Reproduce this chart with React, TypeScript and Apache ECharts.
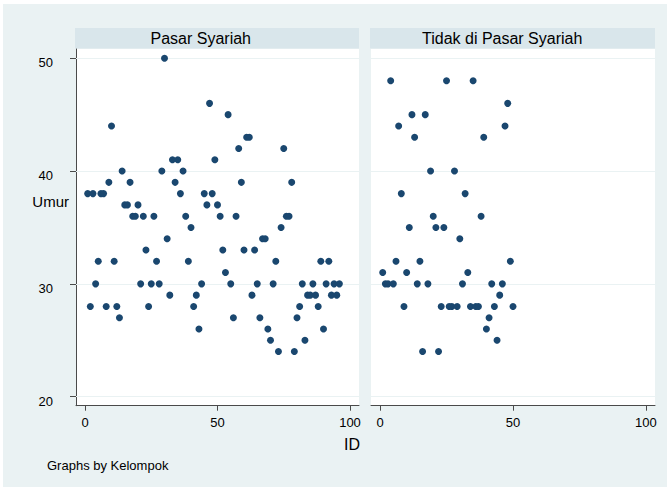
import React, { useEffect, useRef } from "react";
import * as echarts from "echarts";

const panelTitles = ["Pasar Syariah", "Tidak di Pasar Syariah"];
const xTicks = [0, 50, 100];
const yTicks = [20, 30, 40, 50];

const syariahId = [
  1, 2, 3, 4, 5, 6, 7, 8, 9, 10, 11, 12, 13, 14, 15, 16, 17, 18, 19, 20,
  21, 22, 23, 24, 25, 26, 27, 28, 29, 30, 31, 32, 33, 34, 35, 36, 37, 38, 39, 40,
  41, 42, 43, 44, 45, 46, 47, 48, 49, 50, 51, 52, 53, 54, 55, 56, 57, 58, 59, 60,
  61, 62, 63, 64, 65, 66, 67, 68, 69, 70, 71, 72, 73, 74, 75, 76, 77, 78, 79, 80,
  81, 82, 83, 84, 85, 86, 87, 88, 89, 90, 91, 92, 93, 94, 95, 96,
];
const syariahAge = [
  38, 28, 38, 30, 32, 38, 38, 28, 39, 44, 32, 28, 27, 40, 37, 37, 39, 36, 36, 37,
  30, 36, 33, 28, 30, 36, 32, 30, 40, 50, 34, 29, 41, 39, 41, 38, 40, 36, 32, 35,
  28, 29, 26, 30, 38, 37, 46, 38, 41, 37, 36, 33, 31, 45, 30, 27, 36, 42, 39, 33,
  43, 43, 29, 33, 30, 27, 34, 34, 26, 25, 30, 32, 24, 35, 42, 36, 36, 39, 24, 27,
  28, 30, 25, 29, 29, 30, 29, 28, 32, 26, 30, 32, 29, 30, 29, 30,
];
const tidakId = [
  1, 2, 3, 4, 5, 6, 7, 8, 9, 10, 11, 12, 13, 14, 15, 16, 17, 18, 19, 20,
  21, 22, 23, 24, 25, 26, 27, 28, 29, 30, 31, 32, 33, 34, 35, 36, 37, 38, 39, 40,
  41, 42, 43, 44, 45, 46, 47, 48, 49, 50,
];
const tidakAge = [
  31, 30, 30, 48, 30, 32, 44, 38, 28, 31, 35, 45, 43, 30, 32, 24, 45, 30, 40, 36,
  35, 24, 28, 35, 48, 28, 28, 40, 28, 34, 30, 38, 31, 28, 48, 28, 28, 36, 43, 26,
  27, 30, 28, 25, 29, 30, 44, 46, 32, 28,
];

const FONT = "'Liberation Sans', Arial, Helvetica, sans-serif";
const BG = "#eaf2f3";
const STRIP = "#d9e6eb";
const NAVY = "#1a476f";
const AXIS = "#4a4a4a";

export default function App() {
  const ref = useRef<HTMLDivElement>(null);
  useEffect(() => {
    if (!ref.current) return;
    const chart = echarts.init(ref.current, null, { renderer: "svg" });
    const grids = [
      { left: 76, width: 283, titleX: 150.5 },
      { left: 371, width: 284, titleX: 422 },
    ];
    const xAxis = grids.map((_, i) => ({
      type: "value",
      gridIndex: i,
      min: -3.4,
      max: 103.4,
      axisLine: { show: true, lineStyle: { color: AXIS, width: 1 } },
      axisTick: { show: true, customValues: xTicks, length: 5, lineStyle: { color: AXIS } },
      axisLabel: {
        show: true,
        customValues: xTicks,
        fontSize: 13,
        color: "#000",
        fontFamily: FONT,
        margin: 10,
      },
      splitLine: { show: false },
    }));
    const yAxis = grids.map((_, i) => ({
      type: "value",
      gridIndex: i,
      min: 19.2,
      max: 50.82,
      axisLine: { show: i === 0, onZero: false, lineStyle: { color: AXIS, width: 1 } },
      axisTick: { show: i === 0, customValues: yTicks, length: 6, lineStyle: { color: AXIS } },
      axisLabel: {
        show: i === 0,
        customValues: yTicks,
        fontSize: 13,
        color: "#000",
        fontFamily: FONT,
        margin: 23,
        verticalAlign: "top",
        lineHeight: 9,
      },
      splitLine: { show: false },
    }));
    const gridLines = {
      silent: true,
      symbol: "none",
      label: { show: false },
      lineStyle: { color: BG, width: 1.2, type: "solid" },
      data: yTicks.map((v) => ({ yAxis: v })),
    };
    const sets = [
      syariahId.map((id, k) => [id, syariahAge[k]]),
      tidakId.map((id, k) => [id, tidakAge[k]]),
    ];
    const series: any[] = [];
    sets.forEach((d, i) => {
      series.push({
        type: "line",
        xAxisIndex: i,
        yAxisIndex: i,
        data: [],
        z: 1,
        markLine: gridLines,
      });
      series.push({
        type: "scatter",
        xAxisIndex: i,
        yAxisIndex: i,
        data: d,
        symbol: "circle",
        symbolSize: 7,
        itemStyle: { color: NAVY, opacity: 1 },
        z: 5,
      });
    });
    const strips = grids.map((g) => ({
      type: "rect",
      shape: { x: g.left - 1, y: 28, width: g.width + 1, height: 20.5 },
      style: { fill: STRIP },
      z: 0,
    }));
    const stripTexts = grids.map((g, i) => ({
      type: "text",
      x: g.titleX,
      y: 38,
      style: {
        text: panelTitles[i],
        fill: "#000",
        font: `16px ${FONT}`,
        textAlign: "left",
        textVerticalAlign: "middle",
      },
      z: 2,
    }));
    chart.setOption({
      animation: false,
      backgroundColor: "#fff",
      grid: grids.map((g) => ({
        left: g.left,
        width: g.width,
        top: 49,
        bottom: 82.3,
        show: true,
        backgroundColor: "#fff",
        borderWidth: 0,
        containLabel: false,
      })),
      xAxis,
      yAxis,
      series,
      graphic: [
        {
          type: "rect",
          shape: { x: 3, y: 4, width: 664, height: 483 },
          style: { fill: BG },
          z: -10,
          silent: true,
        },
        ...strips,
        ...stripTexts,
        {
          type: "text",
          x: 69,
          y: 201,
          style: {
            text: "Umur",
            fill: "#000",
            font: `15px ${FONT}`,
            textAlign: "right",
            textVerticalAlign: "middle",
          },
        },
        {
          type: "text",
          x: 352,
          y: 444,
          style: {
            text: "ID",
            fill: "#000",
            font: `16px ${FONT}`,
            textAlign: "center",
            textVerticalAlign: "middle",
          },
        },
        {
          type: "text",
          x: 47,
          y: 465,
          style: {
            text: "Graphs by Kelompok",
            fill: "#000",
            font: `13px ${FONT}`,
            textAlign: "left",
            textVerticalAlign: "middle",
          },
        },
      ],
    });
    return () => chart.dispose();
  }, []);
  return (
    <div
      ref={ref}
      style={{ position: "fixed", left: 0, top: 0, width: 667, height: 488 }}
    />
  );
}
